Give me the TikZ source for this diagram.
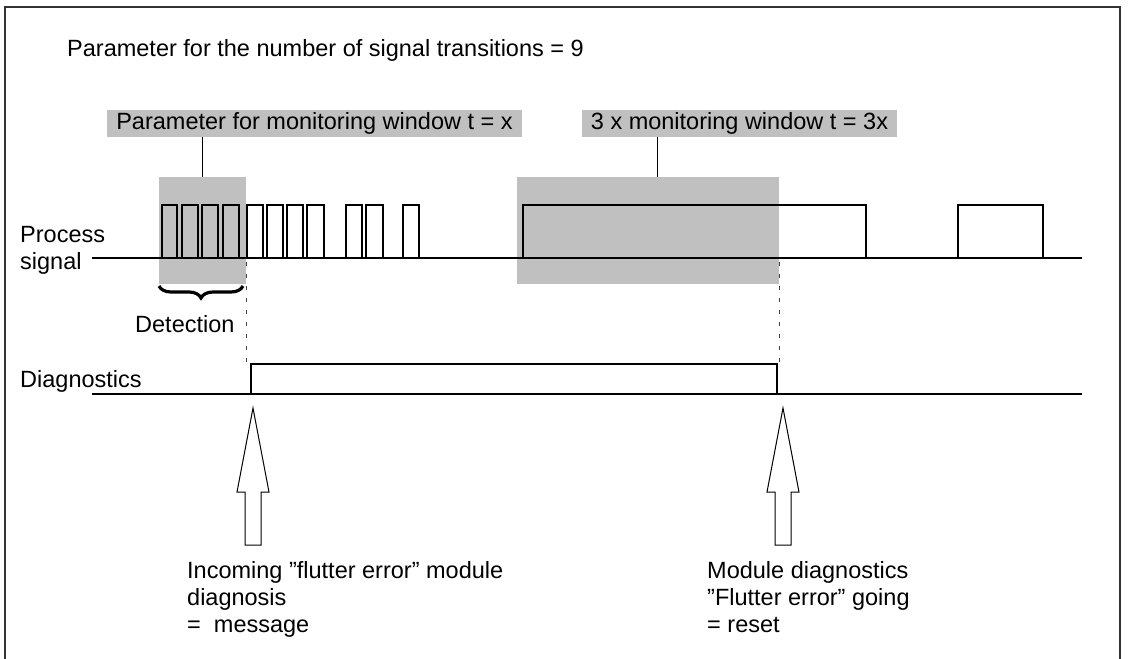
\documentclass[tikz,border=0pt]{standalone}
\usepackage{fontspec}
\setmainfont{Liberation Sans}
\usepackage{xcolor}
\usepackage{tikz}
\usetikzlibrary{positioning, decorations.pathreplacing, calc}
\definecolor{wingray}{RGB}{192,192,192}

\begin{document}
\begin{tikzpicture}[x=1pt, y=-1pt,
    txt/.style={font=\fontsize{23.5}{27}\selectfont, inner sep=0pt, anchor=base west, align=left},
    window/.style={fill=wingray, draw=none, minimum width=#1, minimum height=107pt, inner sep=0pt},
    tag/.style={fill=wingray, font=\fontsize{23.5}{27}\selectfont, inner xsep=9pt, inner ysep=0pt, minimum height=27pt},
    sig/.style={line width=1.2pt},
    pulse/.style={line width=2pt, line join=miter},
    guide/.style={dash pattern=on 4pt off 8pt, line width=1pt, black!75},
    hollow/.style={draw, line width=1pt, fill=white, line join=miter}
]
\useasboundingbox (0,0) rectangle (1128,659);
% Frame
\draw[line width=1.3pt, black!80] (5,659) -- (5,7) -- (1120,7) -- (1120,659);
% Title
\node[txt] (title) at (67,56) {Parameter for the number of signal transitions = 9};
% Monitoring windows
\node[window=87pt]  (win1) at (202.5,230.5) {};
\node[window=262pt] (win3) at (648,230.5) {};
% Window labels
\node[tag] (lblwin)    at (314.5,123.5) {Parameter for monitoring window t = x};
\node[tag] (lbltriple) at (739.5,123.5) {3 x monitoring window t = 3x};
\draw[line width=1pt] (lblwin.south -| win1.north) -- (win1.north);
\draw[line width=1pt] (lbltriple.south -| 657,0) -- (win3.north -| 657,0);
% Process signal
\node[txt] (procsig) at (20,269) {Process\\signal};
\draw[sig] (92,258) -- (1082,258);
\foreach \a/\b in {162/177,182/198,202/218,223/239,247/263,267/283,287/303,307/324,346/362,366/383,403/419,523/866,958/1043}
    \draw[pulse] (\a,258) -- (\a,205) -- (\b,205) -- (\b,258) -- cycle;
% Detection
\draw[decorate, decoration={brace, mirror, amplitude=12pt}, line width=3.2pt] (159,286) -- (243,286);
\node[txt] (detect) at (135,332) {Detection};
% Diagnostics
\node[txt] (diag) at (20,387) {Diagnostics};
\draw[sig] (92,394) -- (1082,394);
\draw[pulse] (251,394) -- (251,364) -- (777,364) -- (777,394) -- cycle;
% Guides
\draw[guide] (win1.south east |- 0,262) -- (win1.south east |- 0,362);
\draw[guide] (win3.south east |- 0,262) -- (win3.south east |- 0,362);
% Arrows
\foreach \cx in {253,783}
    \draw[hollow] (\cx,408) -- ++(16,84) -- ++(-8,0) -- ++(0,53) -- ++(-16,0) -- ++(0,-53) -- ++(-8,0) -- cycle;
% Notes
\node[txt] (incoming) at (187,632) {Incoming ”flutter error” module\\diagnosis\\= \ message};
\node[txt] (going)    at (707,632) {Module diagnostics\\”Flutter error” going\\= reset};
\end{tikzpicture}
\end{document}
